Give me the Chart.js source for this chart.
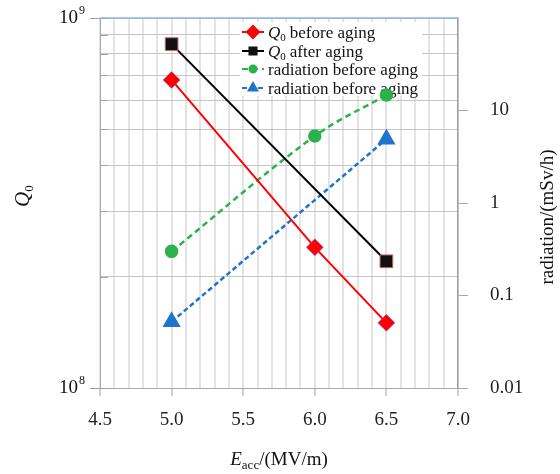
<!DOCTYPE html>
<html>
<head>
<meta charset="utf-8">
<script src="https://cdn.jsdelivr.net/npm/chart.js@4.4.1/dist/chart.umd.min.js"></script>
<style>
    html, body { margin: 0; padding: 0; background: #fff; }
    #wrap { width: 560px; height: 474px; }
</style>
</head>
<body>
<div id="wrap"><canvas id="agingChart" width="560" height="474"></canvas></div>
<script>
// values
const eaccQ0Before = [5.0, 6.0, 6.5];
const q0Before = [6.8e8, 2.4e8, 1.5e8];
const eaccQ0After = [5.0, 6.5];
const q0After = [8.5e8, 2.2e8];
const eaccRadGreen = [5.0, 6.0, 6.5];
const radGreen = [0.3, 5.3, 14.7];
const eaccRadBlue = [5.0, 6.5];
const radBlue = [0.052, 4.9];

const q0Ticks = [1e8, 2e8, 3e8, 4e8, 5e8, 6e8, 7e8, 8e8, 9e8, 1e9];
const q0Labels = [[1e8, "10", "8"], [1e9, "10", "9"]];
const radTicks = [0.01, 0.1, 1, 10];
const legendLabels = ["before aging", "after aging", "radiation before aging", "radiation before aging"];

const SERIF = "'Liberation Serif', 'Times New Roman', serif";

function toPoints(xs, ys) {
    return xs.map((x, i) => ({ x: x, y: ys[i] }));
}

function isMajorX(v) {
    return Math.round(v * 10) % 5 === 0;
}

function noPad(scale) {
    scale.paddingTop = 0;
    scale.paddingBottom = 0;
}

// italic Q with subscript 0, left aligned at baseline y
function drawQ0(ctx, x, y, size) {
    ctx.font = "italic " + size + "px " + SERIF;
    ctx.fillText("Q", x, y);
    const w = ctx.measureText("Q").width;
    const sub = Math.round(size * 0.62);
    ctx.font = sub + "px " + SERIF;
    ctx.fillText("0", x + w, y + size * 0.2);
    return w + ctx.measureText("0").width;
}

const extrasPlugin = {
    id: "extras",
    beforeDatasetsDraw(chart) {
        const ctx = chart.ctx;
        const area = chart.chartArea;
        const yScale = chart.scales.y;

        // short inner tick marks on the left axis
        ctx.save();
        ctx.strokeStyle = "#a0a0a0";
        ctx.lineWidth = 1;
        yScale.ticks.forEach(t => {
            const py = Math.round(yScale.getPixelForValue(t.value)) + 0.5;
            ctx.beginPath();
            ctx.moveTo(area.left, py);
            ctx.lineTo(area.left + 8, py);
            ctx.stroke();
        });

        // top border
        ctx.strokeStyle = "#8db4e2";
        ctx.lineWidth = 1.5;
        ctx.beginPath();
        ctx.moveTo(area.left, area.top);
        ctx.lineTo(area.right, area.top);
        ctx.stroke();

        // legend box
        ctx.fillStyle = "#fff";
        ctx.fillRect(240, 22, 182, 74);
        const rowY = [32, 51, 69, 88];
        chart.data.datasets.forEach((ds, i) => {
            const y = rowY[i];
            ctx.strokeStyle = ds.borderColor;
            ctx.lineWidth = 2;
            ctx.setLineDash(ds.borderDash || []);
            ctx.beginPath();
            ctx.moveTo(242, y);
            ctx.lineTo(264, y);
            ctx.stroke();
            ctx.setLineDash([]);
            ctx.fillStyle = ds.pointBackgroundColor;
            ctx.strokeStyle = ds.pointBackgroundColor;
            Chart.helpers.drawPoint(ctx, {
                pointStyle: ds.pointStyle,
                rotation: 0,
                radius: ds.legendRadius,
                borderWidth: 1
            }, 253, y);

            ctx.fillStyle = "#111";
            ctx.textAlign = "left";
            ctx.textBaseline = "alphabetic";
            let x = 268;
            if (i < 2) {
                x += drawQ0(ctx, x, y + 6, 17) + 4;
            }
            ctx.font = "17px " + SERIF;
            ctx.fillText(legendLabels[i], x, y + 6);
        });
        ctx.restore();
    },
    afterDraw(chart) {
        const ctx = chart.ctx;
        const area = chart.chartArea;
        const yScale = chart.scales.y;
        ctx.save();
        ctx.fillStyle = "#111";

        // left tick labels with superscripts
        q0Labels.forEach(([v, base, exp]) => {
            const py = yScale.getPixelForValue(v);
            ctx.font = "19px " + SERIF;
            ctx.textAlign = "right";
            ctx.textBaseline = "middle";
            ctx.fillText(base, 78, py);
            ctx.font = "12px " + SERIF;
            ctx.textAlign = "left";
            ctx.fillText(exp, 79, py - 7);
        });

        // x title: E_acc/(MV/m)
        ctx.textBaseline = "alphabetic";
        ctx.textAlign = "left";
        const cx = (area.left + area.right) / 2;
        ctx.font = "italic 19px " + SERIF;
        const wE = ctx.measureText("E").width;
        ctx.font = "13px " + SERIF;
        const wSub = ctx.measureText("acc").width;
        ctx.font = "19px " + SERIF;
        const wRest = ctx.measureText("/(MV/m)").width;
        let x0 = cx - (wE + wSub + wRest) / 2;
        ctx.font = "italic 19px " + SERIF;
        ctx.fillText("E", x0, 465);
        ctx.font = "13px " + SERIF;
        ctx.fillText("acc", x0 + wE, 469);
        ctx.font = "19px " + SERIF;
        ctx.fillText("/(MV/m)", x0 + wE + wSub, 465);

        // left title: Q0
        ctx.save();
        ctx.translate(22, 197);
        ctx.rotate(-Math.PI / 2);
        drawQ0(ctx, -10, 7, 21);
        ctx.restore();

        // right title
        ctx.save();
        ctx.translate(548, 217);
        ctx.rotate(-Math.PI / 2);
        ctx.font = "19px " + SERIF;
        ctx.textAlign = "center";
        ctx.textBaseline = "middle";
        ctx.fillText("radiation/(mSv/h)", 0, 0);
        ctx.restore();

        ctx.restore();
    }
};

function renderChart() {
    const canvas = document.getElementById("agingChart");
    const ctx = canvas.getContext("2d");

    new Chart(ctx, {
        type: "line",
        data: {
            datasets: [{
                label: "Q0 before aging",
                data: toPoints(eaccQ0Before, q0Before),
                yAxisID: "y",
                borderColor: "#ff0000",
                borderWidth: 2,
                pointStyle: "rectRot",
                pointRadius: 8.5,
                pointBackgroundColor: "#ff0000",
                pointBorderColor: "rgba(140,90,220,0.55)",
                pointBorderWidth: 1,
                legendRadius: 6,
                tension: 0
            }, {
                label: "Q0 after aging",
                data: toPoints(eaccQ0After, q0After),
                yAxisID: "y",
                borderColor: "#000000",
                borderWidth: 2,
                pointStyle: "rect",
                pointRadius: 9,
                pointBackgroundColor: "#111111",
                pointBorderColor: "#c46a6a",
                pointBorderWidth: 1,
                legendRadius: 5,
                tension: 0
            }, {
                label: "radiation before aging",
                data: toPoints(eaccRadGreen, radGreen),
                yAxisID: "y2",
                borderColor: "#2bb24c",
                borderWidth: 2.5,
                borderDash: [6, 4],
                pointStyle: "circle",
                pointRadius: 5.5,
                pointBackgroundColor: "#2bb24c",
                pointBorderColor: "#2bb24c",
                legendRadius: 3.5,
                tension: 0.35
            }, {
                label: "radiation before aging",
                data: toPoints(eaccRadBlue, radBlue),
                yAxisID: "y2",
                borderColor: "#1f74cc",
                borderWidth: 2.5,
                borderDash: [5, 3],
                pointStyle: "triangle",
                pointRadius: 8,
                pointBackgroundColor: "#1f74cc",
                pointBorderColor: "#1f74cc",
                legendRadius: 5,
                tension: 0
            }]
        },
        options: {
            responsive: false,
            animation: false,
            devicePixelRatio: 1,
            layout: { padding: { top: 18, left: 0, right: 0, bottom: 0 } },
            plugins: {
                legend: { display: false },
                tooltip: { enabled: false }
            },
            scales: {
                x: {
                    type: "linear",
                    position: "bottom",
                    min: 4.5,
                    max: 7.0,
                    afterFit: scale => { scale.height = 86; },
                    border: { color: "#a8a8a8", width: 1 },
                    grid: {
                        color: "rgba(0,0,0,0.11)",
                        lineWidth: 2,
                        tickLength: 8,
                        tickColor: c => (c.tick && isMajorX(c.tick.value)) ? "#a0a0a0" : "rgba(0,0,0,0)",
                        tickWidth: 1
                    },
                    ticks: {
                        stepSize: 0.1,
                        autoSkip: false,
                        maxRotation: 0,
                        padding: 13,
                        color: "#222",
                        font: { family: SERIF, size: 19 },
                        callback: v => isMajorX(v) ? v.toFixed(1) : ""
                    }
                },
                y: {
                    type: "logarithmic",
                    position: "left",
                    min: 1e8,
                    max: 1e9,
                    afterFit: scale => { scale.width = 100; noPad(scale); },
                    afterBuildTicks: scale => {
                        scale.ticks = q0Ticks.map(v => ({ value: v }));
                    },
                    border: { color: "#a8a8a8", width: 1 },
                    grid: {
                        color: "#c6c6c6",
                        lineWidth: 1,
                        tickLength: 10,
                        tickColor: c => (c.tick && (c.tick.value === 1e8 || c.tick.value === 1e9)) ? "#a0a0a0" : "rgba(0,0,0,0)"
                    },
                    ticks: {
                        autoSkip: false,
                        font: { family: SERIF, size: 10 },
                        callback: () => ""
                    }
                },
                y2: {
                    type: "logarithmic",
                    position: "right",
                    min: 0.01,
                    max: 100,
                    afterFit: scale => { scale.width = 102; noPad(scale); },
                    afterBuildTicks: scale => {
                        scale.ticks = radTicks.map(v => ({ value: v }));
                    },
                    border: { color: "#a0a0a0", width: 1.5 },
                    grid: {
                        drawOnChartArea: false,
                        tickLength: 10,
                        tickColor: "#a8a8a8"
                    },
                    ticks: {
                        padding: 22,
                        color: "#222",
                        font: { family: SERIF, size: 19 },
                        callback: v => String(v)
                    }
                }
            }
        },
        plugins: [extrasPlugin]
    });
}

document.addEventListener("DOMContentLoaded", function () {
    renderChart();
});
</script>
</body>
</html>
